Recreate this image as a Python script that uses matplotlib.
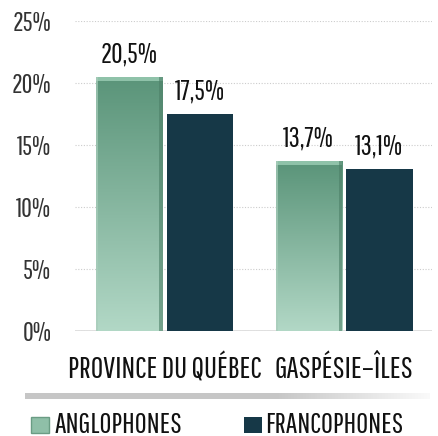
import numpy as np
import matplotlib
matplotlib.use("Agg")
import matplotlib.pyplot as plt
from matplotlib.patches import Rectangle

plt.rcParams['font.family'] = ['Pathway Gothic One', 'DejaVu Sans']

# data
categories = ["PROVINCE DU QUÉBEC", "GASPÉSIE–ÎLES"]
anglophones = [20.5, 13.7]
francophones = [17.5, 13.1]
series_names = ["ANGLOPHONES", "FRANCOPHONES"]
yticks = [0, 5, 10, 15, 20, 25]

green_top = np.array([0x5a, 0x94, 0x79]) / 255
green_bot = np.array([0xb2, 0xd8, 0xc6]) / 255
navy = "#163847"

fig = plt.figure(figsize=(4.39, 4.36), dpi=100)
ax = fig.add_axes([75/439, 105/436, 357/439, 310/436])

x = np.arange(len(categories))
w = 0.37
off = 0.197

bars_a = ax.bar(x - off, anglophones, w, color=green_top, zorder=2)
bars_f = ax.bar(x + off, francophones, w, color=navy, zorder=2)

# vertical gradient + bevel on the anglophone bars
grad = np.linspace(0, 1, 256)[:, None, None]
img = green_top * (1 - grad) + green_bot * grad
for b in bars_a:
    x0, y0 = b.get_x(), b.get_y()
    bw, bh = b.get_width(), b.get_height()
    im = ax.imshow(img, extent=[x0, x0 + bw, y0, y0 + bh], aspect='auto',
                   origin='upper', zorder=3)
    im.set_clip_path(b)
    ax.add_patch(Rectangle((x0, y0 + bh - 0.3), bw, 0.3, color='#8fc2a9', lw=0, zorder=4))
    ax.add_patch(Rectangle((x0 + bw - 0.018, y0), 0.018, bh, color='#4c7f67', lw=0, zorder=4, alpha=0.6))
    ax.add_patch(Rectangle((x0, y0), 0.012, bh, color='#a9cdbb', lw=0, zorder=4, alpha=0.7))

for b, v in zip(list(bars_a) + list(bars_f), anglophones + francophones):
    ax.text(b.get_x() + b.get_width() / 2, v + 1.15, f"{v:.1f}%".replace(".", ","),
            ha='center', va='baseline', fontsize=20, color='#111111')

ax.set_xlim(-0.5, 1.49)
ax.set_ylim(0, 25)
ax.set_yticks(yticks)
ax.set_yticklabels([f"{t}%" for t in yticks], fontsize=19, color='#333333')
ax.tick_params(axis='y', length=0, pad=17)
ax.set_xticks([])
for xi, c in zip(x, categories):
    ax.text(xi, -3.8, c, ha='center', va='baseline', fontsize=22, color='#111111', clip_on=False)
ax.grid(axis='y', linestyle=(0, (1, 1.5)), color='#cccccc', lw=0.8, zorder=0)
ax.axhline(0, color='#dddddd', lw=2, zorder=1)
for s in ax.spines.values():
    s.set_visible(False)

# grey separator band
sep = fig.add_axes([25/439, 37/436, 405/439, 6/436])
band = np.concatenate([np.full(200, 0.78), np.linspace(0.78, 0.98, 120)])[None, :]
sep.imshow(np.dstack([band] * 3), aspect='auto', extent=[0, 1, 0, 1])
sep.axis('off')

# legend
fig.patches.append(Rectangle((31/439, 3/436), 18/439, 16/436, transform=fig.transFigure,
                             facecolor='#8fbfa8', edgecolor='#6a9c84', lw=1))
fig.text(55/439, 3/436, series_names[0], fontsize=21, va='baseline', color='#111111')
fig.patches.append(Rectangle((244/439, 3/436), 18/439, 16/436, transform=fig.transFigure,
                             facecolor=navy, lw=0))
fig.text(265/439, 3/436, series_names[1], fontsize=21, va='baseline', color='#111111')

fig.savefig("out.png", dpi=100)
